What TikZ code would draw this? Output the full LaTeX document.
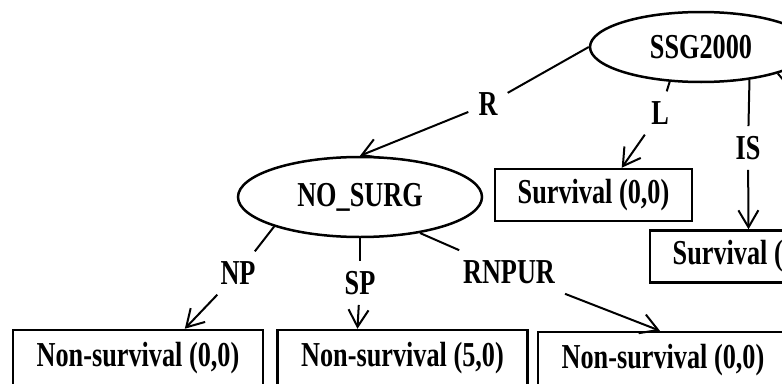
\documentclass[tikz,border=0pt]{standalone}
\usepackage{fontspec}
\setmainfont{Liberation Serif}[FakeStretch=0.75]
\usetikzlibrary{shapes.geometric,arrows.meta}

\begin{document}
\begin{tikzpicture}[x=1pt, y=-1pt,
    font=\fontsize{35}{40}\selectfont\bfseries,
    chance/.style={ellipse, draw, line width=2.5pt, minimum width=222pt, minimum height=70pt, inner sep=0pt},
    outcome/.style={rectangle, draw, line width=2.5pt, minimum width=197pt, minimum height=52pt, inner sep=0pt},
    leaf/.style={outcome, minimum width=250pt, minimum height=56pt},
    lab/.style={inner sep=10pt},
    edge/.style={line width=2pt},
    go/.style={edge, -{Straight Barb[length=17pt, width=20pt]}}]
    \useasboundingbox (0,0) rectangle (782,383);
    \clip (0,0) rectangle (782,383);

    \node (ssg) [chance] at (701,47) {SSG2000};
    \node (nosurg) [chance, minimum width=244pt, minimum height=80pt] at (360,197) {NO\_SURG};
    \node (survL) [outcome] at (593.5,195) {Survival (0,0)};
    \node (survIS) [outcome] at (748.5,256.5) {Survival (0,0)};
    \node (npOut) [leaf] at (138,358) {Non-survival (0,0)};
    \node (spOut) [leaf] at (402.5,358) {Non-survival (5,0)};
    \node (rnOut) [leaf] at (663,360) {Non-survival (0,0)};

    % labels sit in the gaps of the branches
    \node (R) [lab] at (488,104) {R};
    \node (L) [lab] at (660,113) {L};
    \node (IS) [lab] at (748,148) {IS};
    \node (NP) [lab] at (238,273) {NP};
    \node (SP) [lab] at (360,283) {SP};
    \node (RNPUR) [lab] at (509,272) {RNPUR};
    \coordinate (offR) at (800,100);

    \draw[edge] (ssg.west) -- (R);
    \draw[go] (R) -- (nosurg.north);
    \draw[edge] (ssg.228) -- (L);
    \draw[go] (L) -- (survL.44);
    \draw[edge] (ssg.326) -- (IS);
    \draw[go] (IS) -- (survIS.north);
    \draw[edge] (ssg.341) -- (offR);

    \draw[edge] (nosurg.199) -- (NP);
    \draw[go] (NP) -- (npOut.32);
    \draw[edge] (nosurg.south) -- (SP);
    \draw[go] (SP) -- (spOut.147);
    \draw[edge] (nosurg.329) -- (RNPUR);
    \draw[go] (RNPUR) -- (rnOut.96);
\end{tikzpicture}
\end{document}
